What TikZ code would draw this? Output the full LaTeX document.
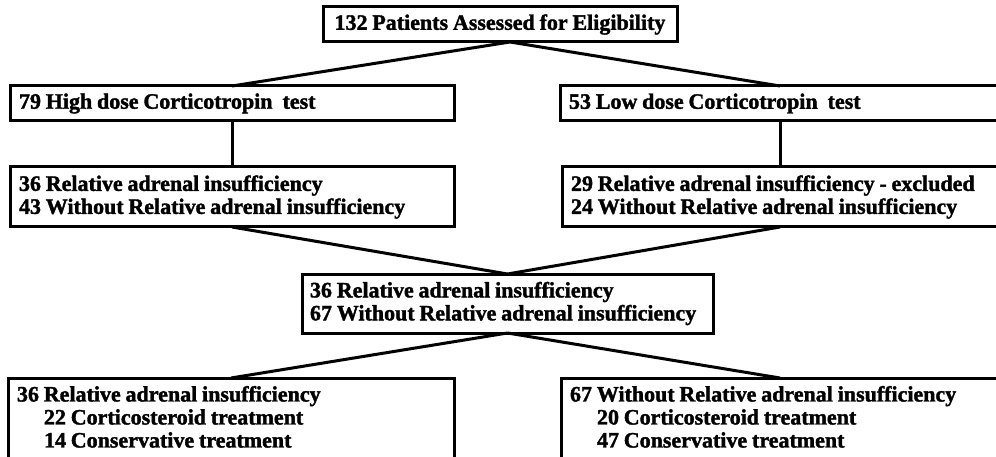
\documentclass[tikz,border=0pt]{standalone}
\usepackage{fontspec}
\setmainfont{Liberation Serif}[BoldFeatures={FakeBold=1.6}]
\newcommand{\tightwords}{\spaceskip=4.8pt\relax}
\tikzset{
	box/.style={draw, line width=3pt, outer sep=0pt, anchor=north west, align=flush left, inner xsep=9pt, inner ysep=2pt, font=\bfseries\fontsize{22}{23}\selectfont},
	link/.style={line width=3pt}
}

\begin{document}
\begin{tikzpicture}[x=1pt, y=-1pt]
	\useasboundingbox (0,0) rectangle (996,457);
	\clip (0,0) rectangle (996,457);
	
	\node [box, align=center, text width=336pt, minimum height=35pt] (assessed) at (323,7) {\tightwords 132 Patients Assessed for Eligibility};
	\node [box, text width=426pt, minimum height=35pt] (high) at (10,86) {\tightwords 79 High dose Corticotropin\hspace{10pt}test};
	\node [box, text width=422pt, minimum height=35pt] (low) at (560,86) {\tightwords 53 Low dose Corticotropin\hspace{10pt}test};
	\node [box, text width=426pt, minimum height=60pt] (highres) at (10,167) {\tightwords 36 Relative adrenal insufficiency\\43 Without Relative adrenal insufficiency};
	\node [box, text width=418pt, minimum height=60pt] (lowres) at (562,167) {\tightwords 29 Relative adrenal insufficiency - excluded\\24 Without Relative adrenal insufficiency};
	\node [box, text width=395pt, inner xsep=8pt, minimum height=59pt] (pooled) at (302,274) {\tightwords 36 Relative adrenal insufficiency\\67 Without Relative adrenal insufficiency};
	\node [box, text width=428pt, inner ysep=8pt, text depth=90pt] (rai) at (8,378) {\tightwords 36 Relative adrenal insufficiency\\\hspace*{27pt}22 Corticosteroid treatment\\\hspace*{27pt}14 Conservative treatment};
	\node [box, text width=420pt, inner ysep=8pt, text depth=90pt] (norai) at (561,378) {\tightwords 67 Without Relative adrenal insufficiency\\\hspace*{27pt}20 Corticosteroid treatment\\\hspace*{27pt}47 Conservative treatment};
	
	\draw [link] ([xshift=10pt]assessed.south) -- (high.north);
	\draw [link] ([xshift=10pt]assessed.south) -- (low.north);
	\draw [link] (high.south) -- (highres.north);
	\draw [link] (low.south) -- (lowres.north);
	\draw [link] (highres.south) -- (pooled.north);
	\draw [link] (lowres.south) -- (pooled.north);
	\draw [link] (pooled.south) -- (rai.north);
	\draw [link] (pooled.south) -- (norai.north);
\end{tikzpicture}
\end{document}
